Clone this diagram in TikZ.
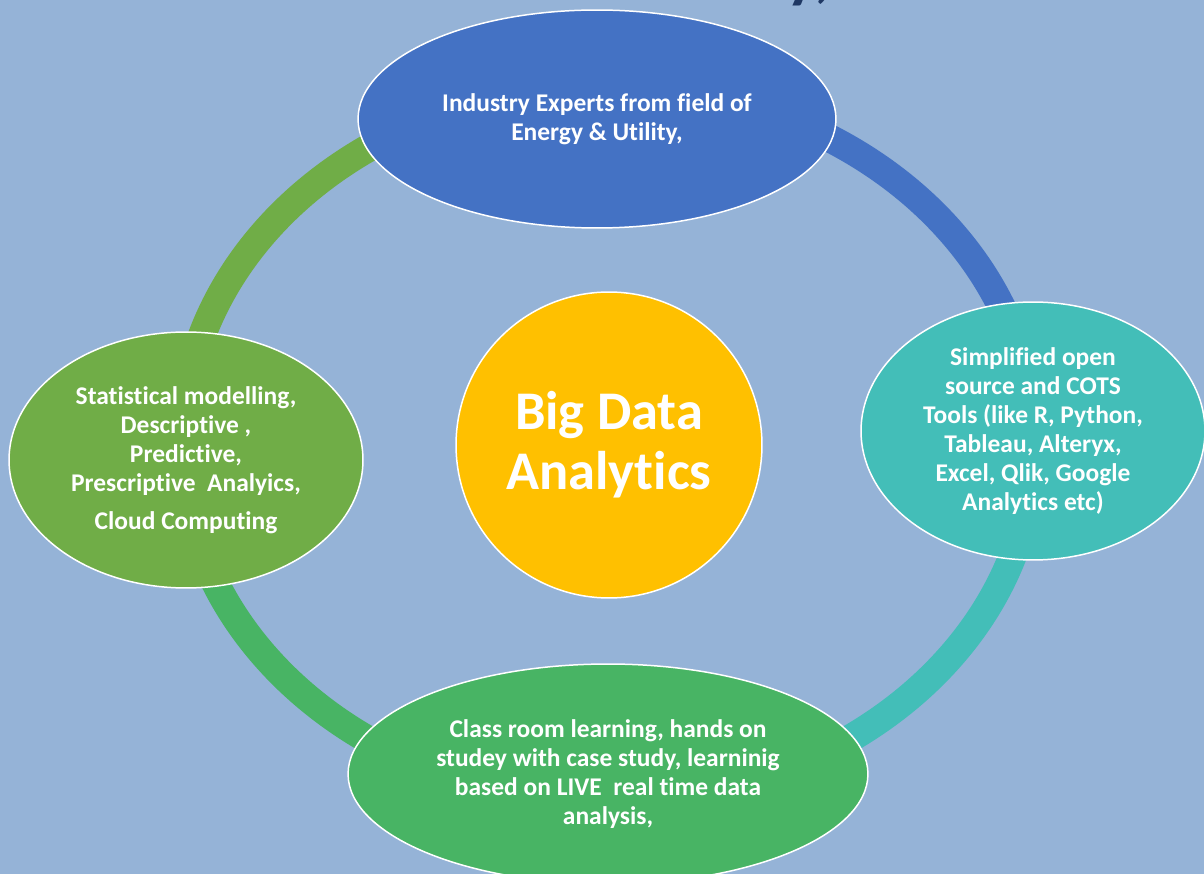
\documentclass[tikz,border=0pt]{standalone}
\usepackage{fontspec}
\setmainfont{Carlito}[Ligatures=NoCommon]
\usetikzlibrary{shapes.geometric, positioning}
\definecolor{bgblue}{HTML}{95B3D7}
\definecolor{expertblue}{HTML}{4472C4}
\definecolor{toolteal}{HTML}{43BEB8}
\definecolor{methodgreen}{HTML}{70AD47}
\definecolor{classgreen}{HTML}{48B464}
\definecolor{coregold}{HTML}{FFC000}
\definecolor{titlenavy}{HTML}{1F3864}

\begin{document}
\begin{tikzpicture}[
  x=0.02cm, y=-0.02cm,
  bubble/.style={ellipse, draw=white, line width=0.85pt, inner sep=0pt, align=center, text=white, font=\bfseries\fontsize{14.5}{16.5}\selectfont},
  core/.style={circle, draw=white, line width=0.85pt, fill=coregold, minimum size=6.12cm, inner sep=0pt, align=center, text=white, font=\bfseries\fontsize{31}{34}\selectfont},
  seg/.style={line width=0.56cm}
]
  \useasboundingbox (0,0) rectangle (1204,874);
  \clip (0,0) rectangle (1204,874);
  \fill[bgblue] (0,0) rectangle (1204,874);

  \node[anchor=base east, inner sep=0pt, text=titlenavy, font=\bfseries\fontsize{38}{42}\selectfont] (title) at (832,-4) {y,};

  % ring behind the bubbles
  \coordinate (mid) at (608,444);
  \path (mid) ++(180:8.52cm and 7.16cm) coordinate (ringW)
        (mid) ++(90:8.52cm and 7.16cm) coordinate (ringN)
        (mid) ++(0:8.52cm and 7.16cm) coordinate (ringE)
        (mid) ++(270:8.52cm and 7.16cm) coordinate (ringS);
  \draw[seg, methodgreen] (ringW) arc[start angle=180, end angle=90, x radius=8.52cm, y radius=7.16cm];
  \draw[seg, expertblue] (ringN) arc[start angle=90, end angle=0, x radius=8.52cm, y radius=7.16cm];
  \draw[seg, toolteal] (ringE) arc[start angle=0, end angle=-90, x radius=8.52cm, y radius=7.16cm];
  \draw[seg, classgreen] (ringS) arc[start angle=270, end angle=180, x radius=8.52cm, y radius=7.16cm];

  \node[bubble, fill=expertblue, minimum width=9.56cm, minimum height=4.36cm] (experts) at (597,119) {Industry Experts from field of\\Energy \& Utility,};
  \node[bubble, fill=toolteal, minimum width=6.88cm, minimum height=5.16cm] (tools) at (1033,431) {Simplified open\\source and COTS\\Tools (like R, Python,\\Tableau, Alteryx,\\Excel, Qlik, Google\\Analytics etc)};
  \node[bubble, fill=methodgreen, minimum width=7.08cm, minimum height=5.12cm] (methods) at (186,460) {Statistical modelling,\\Descriptive ,\\Predictive,\\Prescriptive~~Analyics,\\[5pt]Cloud Computing};
  \node[bubble, fill=classgreen, minimum width=10.4cm, minimum height=4.4cm] (learning) at (608,774) {Class room learning, hands on\\studey with case study, learninig\\based on LIVE~~real time data\\analysis,};
  \node[core] (bda) at (609,445) {Big Data\\Analytics};
\end{tikzpicture}
\end{document}
